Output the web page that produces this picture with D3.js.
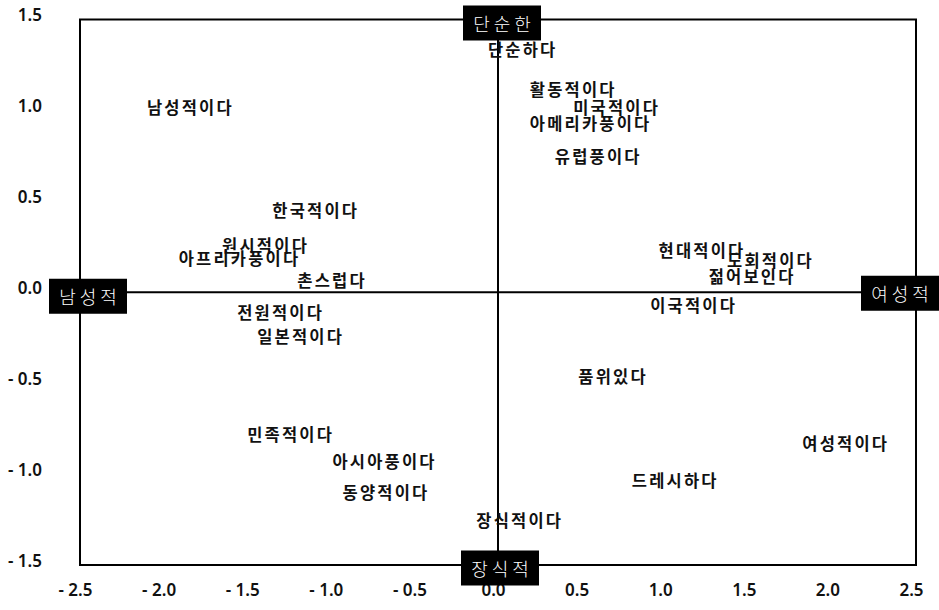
<!DOCTYPE html>
<html>
<head>
<meta charset="utf-8">
<script src="https://cdn.jsdelivr.net/npm/d3@7/dist/d3.min.js"></script>
<style>
  html, body { margin: 0; padding: 0; background: #fff; }
  svg { display: block; }
</style>
</head>
<body>
<svg id="chart" width="939" height="610"></svg>
<script>
// ---- data ----
const terms = ["남성적이다","한국적이다","원시적이다","아프리카풍이다","촌스럽다","전원적이다","일본적이다",
  "민족적이다","아시아풍이다","동양적이다","장식적이다","단순하다","활동적이다","미국적이다","아메리카풍이다",
  "유럽풍이다","현대적이다","도회적이다","젊어보인다","이국적이다","품위있다","여성적이다","드레시하다"];
const dim1 = [-2.10,-1.35,-1.65,-1.91,-1.20,-1.56,-1.44,-1.50,-0.99,-0.93,-0.13,-0.06,0.19,0.45,0.19,
  0.34,0.96,1.37,1.26,0.91,0.48,1.82,0.80];
const dim2 = [1.02,0.45,0.26,0.19,0.07,-0.11,-0.24,-0.78,-0.93,-1.10,-1.25,1.34,1.12,1.02,0.93,
  0.75,0.23,0.18,0.09,-0.07,-0.46,-0.83,-1.03];
const poleNames = ["남성적","여성적","단순한","장식적"];
const poleX = [-2.5, 2.5, 0, 0];
const poleY = [0, 0, 1.5, -1.5];
const xTicks = [-2.5,-2.0,-1.5,-1.0,-0.5,0.0,0.5,1.0,1.5,2.0,2.5];
const yTicks = [1.5,1.0,0.5,0.0,-0.5,-1.0,-1.5];
const fmt = v => (v < 0 ? "- " : "") + Math.abs(v).toFixed(1);

// ---- layout ----
const svg = d3.select("#chart");
const x = d3.scaleLinear().domain([-2.5, 2.5]).range([80, 916]);
const y = d3.scaleLinear().domain([-1.5, 1.5]).range([565, 19.5]);
const numFont = "'Noto Sans', 'DejaVu Sans', sans-serif";
const krFont = "'Noto Sans CJK KR', sans-serif";

// frame
svg.append("rect")
  .attr("x", x(-2.5)).attr("y", y(1.5))
  .attr("width", x(2.5) - x(-2.5)).attr("height", y(-1.5) - y(1.5))
  .attr("fill", "none").attr("stroke", "#000").attr("stroke-width", 2);

// zero axes
svg.append("line").attr("x1", x(-2.5)).attr("x2", x(2.5)).attr("y1", y(0)).attr("y2", y(0))
  .attr("stroke", "#000").attr("stroke-width", 2);
svg.append("line").attr("x1", x(0)).attr("x2", x(0)).attr("y1", y(1.5)).attr("y2", y(-1.5))
  .attr("stroke", "#000").attr("stroke-width", 2);

// y tick labels
const yAxis = d3.axisLeft(y).tickValues(yTicks).tickFormat(fmt).tickSize(0).tickPadding(0);
const gy = svg.append("g").attr("transform", "translate(42,-4)").call(yAxis);
gy.select(".domain").remove();
gy.selectAll("text").attr("font-family", numFont).attr("font-size", 17)
  .attr("font-weight", 600).attr("fill", "#111");

// x tick labels
const xAxis = d3.axisBottom(x).tickValues(xTicks).tickFormat(fmt).tickSize(0).tickPadding(0);
const gx = svg.append("g").attr("transform", "translate(-5,584)").call(xAxis);
gx.select(".domain").remove();
gx.selectAll("text").attr("font-family", numFont).attr("font-size", 17)
  .attr("font-weight", 600).attr("fill", "#111");

// term labels
const pts = terms.map((t, i) => ({ t, a: dim1[i], b: dim2[i] }));
svg.append("g").selectAll("text").data(pts).join("text")
  .attr("x", d => x(d.a)).attr("y", d => y(d.b))
  .attr("dominant-baseline", "central")
  .attr("font-family", krFont).attr("font-size", 16.5).attr("font-weight", 700)
  .attr("letter-spacing", 2.2).attr("fill", "#111")
  .text(d => d.t);

// pole boxes
const poleOff = [[8, 4], [-16, 1], [4, 3.5], [2, 3]];
const poles = poleNames.map((n, i) => ({ n, a: poleX[i], b: poleY[i], o: poleOff[i] }));
const bw = 78, bh = 35;
const pg = svg.append("g").selectAll("g").data(poles).join("g")
  .attr("transform", d => `translate(${x(d.a) + d.o[0]},${y(d.b) + d.o[1]})`);
pg.append("rect").attr("x", -bw / 2).attr("y", -bh / 2).attr("width", bw).attr("height", bh)
  .attr("fill", "#000");
pg.append("text").attr("text-anchor", "middle").attr("dominant-baseline", "central")
  .attr("x", 2)
  .attr("font-family", krFont).attr("font-size", 18).attr("font-weight", 300)
  .attr("letter-spacing", 4).attr("fill", "#fff")
  .text(d => d.n);
</script>
</body>
</html>
